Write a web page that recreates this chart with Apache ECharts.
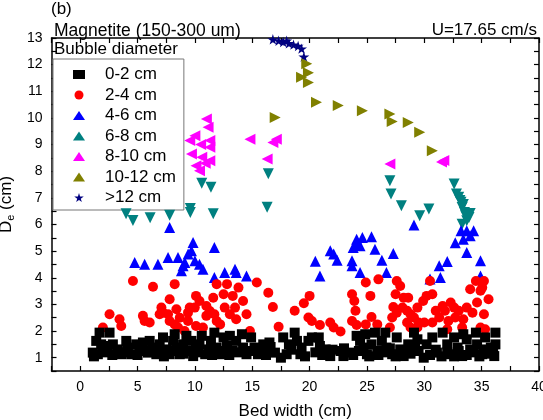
<!DOCTYPE html>
<html>
<head>
<meta charset="utf-8">
<style>
  html, body { margin: 0; padding: 0; background: #fff; }
  #main { width: 543px; height: 420px; }
</style>
</head>
<body>
<div id="main"></div>
<script src="https://cdn.jsdelivr.net/npm/echarts@6/dist/echarts.min.js"></script>
<script>
// 图例名称
var sizeNames = ['0-2 cm', '2-4 cm', '4-6 cm', '6-8 cm', '8-10 cm', '10-12 cm', '>12 cm'];

// 0-2 cm
var d0_2 = [
  [1.1,1.19],[1.2,1.05],[1.4,1.63],[1.54,1.13],[1.69,1.94],[1.83,1.5],[1.98,1.31],[2.0,1.2],[2.42,1.44],[2.56,1.94],
  [2.8,1.1],[2.85,1.5],[3.29,1.31],[3.58,1.13],[3.9,1.2],[4.02,1.63],[4.16,1.38],[4.45,1.13],[4.89,1.5],
  [5.0,1.1],[5.18,1.31],[5.47,1.57],[5.6,1.25],[5.91,1.19],[6.06,1.63],[6.35,1.38],[6.64,1.13],[6.93,1.5],
  [7.0,1.2],[7.22,1.76],[7.3,1.05],[7.51,1.31],[7.8,1.13],[8.0,1.25],[8.1,1.63],[8.24,1.88],[8.39,1.38],
  [8.68,1.13],[8.97,1.5],[9.0,1.15],[9.26,1.82],[9.41,1.25],[9.7,1.63],[9.85,1.06],[10.1,1.38],[10.3,1.2],
  [10.4,1.5],[10.6,1.82],[10.9,1.13],[11.2,1.31],[11.4,1.63],[11.5,1.1],[11.7,1.94],[11.9,1.38],[12.2,1.13],
  [12.5,1.76],[12.5,1.25],[12.8,1.44],[13.0,1.1],[13.05,1.82],[13.3,1.25],[13.6,1.63],[13.8,1.2],[14.1,1.88],
  [14.2,1.38],[14.5,1.13],[14.8,1.25],[14.9,1.76],[15.2,1.38],[15.4,1.25],[15.5,1.13],[15.8,1.3],[15.96,1.5],
  [16.2,1.1],[16.5,1.57],[16.6,1.4],[16.98,1.19],[17.5,1.0],[17.7,1.76],[18.0,1.13],[18.2,1.5],[18.4,1.3],
  [18.7,1.94],[18.9,1.63],[19.2,1.13],[19.3,1.38],[19.6,1.05],[19.9,1.63],[20.2,1.76],[20.5,1.2],[20.8,1.76],
  [20.9,1.44],[21.1,1.1],[21.4,1.31],[21.8,1.06],[22.0,1.3],[22.7,1.25],[22.95,1.06],[23.0,1.35],[23.5,1.19],
  [23.8,1.1],[24.1,1.82],[24.3,1.25],[24.4,1.63],[24.7,1.38],[24.85,1.88],[25.0,1.13],[25.2,1.05],[25.4,1.5],
  [25.7,1.94],[25.9,1.25],[26.0,1.1],[26.3,1.63],[26.5,1.2],[26.6,1.94],[26.7,1.38],[27.0,1.35],[27.2,1.13],
  [27.5,1.05],[27.6,1.76],[27.9,1.31],[28.0,1.2],[28.2,1.06],[28.6,1.5],[28.8,1.15],[29.1,1.94],[29.2,1.35],
  [29.4,1.69],[29.5,1.25],[29.95,1.0],[30.2,1.5],[30.5,1.1],[30.7,1.76],[31.0,1.3],[31.1,1.19],[31.5,1.05],
  [31.6,1.94],[32.0,1.5],[32.0,1.2],[32.3,1.13],[32.6,1.76],[32.6,1.05],[32.9,1.38],[33.0,1.25],[33.3,1.06],
  [33.4,1.88],[33.7,1.69],[33.7,1.1],[34.0,1.31],[34.3,1.2],[34.5,1.94],[34.6,1.5],[34.8,1.05],[35.05,1.13],
  [35.2,1.31],[35.3,1.76],[35.5,1.15],[35.8,1.38],[36.0,1.25],[36.1,1.06],[36.2,1.94],[36.2,1.5]
];

// 2-4 cm
var d2_4 = [
  [1.98,2.13],[2.56,2.63],[3.43,2.44],[3.58,2.19],[4.6,3.88],[5.47,2.57],[5.62,2.38],[6.06,2.32],[6.35,3.66],
  [6.93,2.63],[7.08,2.88],[7.22,2.69],[7.66,2.63],[7.8,3.19],[7.8,2.38],[8.24,3.76],[8.24,2.25],[8.39,2.82],
  [8.53,2.13],[8.68,2.5],[9.1,2.0],[9.4,2.69],[9.4,2.38],[9.55,2.88],[9.99,2.88],[10.1,3.32],[10.1,2.19],
  [10.4,3.13],[10.7,2.13],[11.0,2.94],[11.0,2.57],[11.3,2.75],[11.6,3.25],[11.7,2.63],[11.9,3.76],[11.9,2.38],
  [12.2,2.25],[12.5,3.38],[12.6,2.88],[12.8,3.76],[13.05,2.63],[13.3,3.32],[13.5,2.88],[13.6,2.44],[13.8,3.63],
  [14.2,3.13],[14.5,2.63],[14.8,2.0],[15.4,3.82],[16.4,3.44],[16.8,2.9],[17.3,2.16],[18.7,2.76],[19.5,3.04],
  [19.9,2.51],[20.0,3.32],[20.2,2.38],[20.9,2.23],[21.8,2.32],[22.1,2.13],[22.7,1.98],[23.7,3.38],[23.7,2.38],
  [23.9,3.13],[24.0,2.76],[24.1,2.23],[24.9,3.82],[24.9,2.25],[25.3,3.32],[25.4,2.53],[25.9,2.25],[26.0,3.94],
  [27.0,2.13],[27.2,2.51],[27.3,2.9],[27.5,3.38],[27.6,3.88],[27.6,2.69],[27.9,3.69],[28.1,2.88],[28.2,3.25],
  [28.5,2.76],[28.5,2.32],[28.6,3.25],[28.8,2.63],[28.8,2.13],[29.1,2.51],[29.4,2.88],[29.4,2.13],[29.5,2.32],
  [29.9,3.13],[30.0,2.32],[30.2,3.32],[30.5,3.88],[30.7,3.38],[30.7,2.32],[31.0,2.76],[31.3,2.51],[31.6,2.94],
  [31.8,2.76],[32.0,2.07],[32.1,2.38],[32.3,3.07],[32.6,2.88],[32.7,2.51],[33.0,2.76],[33.3,2.13],[33.4,2.44],
  [33.7,2.88],[34.0,3.57],[34.2,2.69],[34.5,3.88],[34.6,3.07],[34.9,3.51],[34.9,2.13],[35.05,3.63],[35.2,3.88],
  [35.2,2.63],[35.3,2.07],[35.6,3.19]
];

// 4-6 cm
var d4_6 = [
  [4.75,4.57],[5.62,4.51],[6.78,4.51],[7.66,4.76],[7.8,5.89],[8.53,4.76],[8.83,4.26],[8.97,4.45],[9.12,4.57],
  [9.41,4.89],[9.7,5.01],[9.84,5.32],[10.0,4.64],[10.4,4.51],[10.7,4.32],[11.7,5.14],[11.7,4.01],[12.6,4.2],
  [13.5,4.32],[13.6,4.2],[14.5,4.07],[20.5,4.62],[20.9,4.07],[21.8,5.01],[22.1,4.89],[22.4,4.66],[23.7,4.64],
  [23.7,4.45],[23.8,5.14],[24.1,5.45],[24.1,5.29],[24.4,5.2],[24.4,4.2],[24.6,5.51],[25.4,5.54],[25.7,5.07],
  [26.3,4.66],[26.7,4.2],[27.3,4.91],[29.1,5.98],[30.5,3.95],[31.3,4.45],[31.4,4.01],[32.0,4.61],[32.7,5.31],
  [33.2,5.76],[33.4,5.45],[33.7,5.76],[33.7,4.95],[34.0,5.58],[34.3,5.76],[34.9,4.64],[34.9,4.07]
];

// 6-8 cm
var d6_8 = [
  [4.0,6.4],[4.6,6.15],[6.1,6.25],[7.8,6.35],[9.6,6.45],[9.6,6.6],[10.6,7.55],[11.4,7.4],[11.6,6.4],
  [16.4,7.9],[16.3,6.65],[27.0,7.64],[27.1,7.14],[28.0,6.7],[29.6,6.33],[30.4,6.58],[32.6,7.52],[32.8,7.14],
  [33.0,7.02],[33.1,6.9],[33.2,6.83],[33.3,6.64],[33.4,6.75],[33.5,6.45],[33.6,6.33],[33.7,6.14],[33.9,6.26],
  [34.0,6.41],[33.3,6.01]
];

// 8-10 cm
var d8_10 = [
  [9.55,9.15],[9.7,8.65],[10.0,9.33],[10.1,8.2],[10.4,8.02],[10.5,9.0],[10.6,8.52],[10.9,8.3],[11.0,9.96],
  [11.15,9.65],[11.3,9.15],[11.3,8.9],[11.3,8.39],[14.8,9.2],[16.3,8.46],[16.8,9.08],[17.1,9.2],[27.0,8.27],
  [31.5,8.35],[31.7,8.4]
];

// 10-12 cm
var d10_12 = [
  [17.0,10.02],[19.3,11.53],[19.75,12.03],[19.9,11.7],[19.9,11.33],[20.6,10.59],[22.5,10.47],[24.6,10.27],
  [27.0,10.15],[27.2,9.87],[28.6,9.83],[29.6,9.46],[30.7,8.77]
];

// >12 cm
var d12 = [
  [16.8,12.95],[17.3,12.9],[17.7,12.85],[18.0,12.9],[18.2,12.8],[18.6,12.75],[19.0,12.7],[19.3,12.6],[19.5,12.3]
];

var starPath = 'path://M50,0 L61,35 L98,35 L68,57 L79,91 L50,70 L21,91 L32,57 L2,35 L39,35 Z';

var myChart = echarts.init(document.getElementById('main'));
var font = 'Liberation Sans, Arial, sans-serif';

function mkSeries(name, data, symbol, size, color, rot, z) {
  return {
    name: name,
    type: 'scatter',
    data: data,
    symbol: symbol,
    symbolSize: size,
    symbolRotate: rot,
    symbolKeepAspect: true,
    z: z,
    itemStyle: { color: color, opacity: 1 },
    emphasis: { disabled: true }
  };
}

function axisBase() {
  return {
    type: 'value',
    splitLine: { show: false },
    axisLine: { show: true, onZero: false, lineStyle: { color: '#000', width: 1.5 } },
    axisTick: { show: true, inside: true, length: 5, lineStyle: { color: '#000', width: 1.2 } }
  };
}

var xMain = axisBase();
xMain.min = -2.5; xMain.max = 40; xMain.interval = 2.5;
xMain.name = 'Bed width (cm)';
xMain.nameLocation = 'middle';
xMain.nameGap = 32;
xMain.nameTextStyle = { fontFamily: font, fontSize: 17, color: '#000' };
xMain.axisLabel = {
  fontFamily: font, fontSize: 14, color: '#000', margin: 9,
  formatter: function (v) { return v % 5 === 0 ? String(v) : ''; }
};

var xTop = axisBase();
xTop.min = -2.5; xTop.max = 40; xTop.interval = 2.5;
xTop.position = 'top';
xTop.axisLabel = { show: false };

var yMain = axisBase();
yMain.min = 0.5; yMain.max = 13; yMain.interval = 0.5;
yMain.name = '{a|D}{s|e}{a| (cm)}';
yMain.nameLocation = 'middle';
yMain.nameGap = 34;
yMain.nameTextStyle = {
  fontFamily: font, fontSize: 17, color: '#000',
  rich: {
    a: { fontFamily: font, fontSize: 17, color: '#000' },
    s: { fontFamily: font, fontSize: 11, color: '#000', padding: [8, 0, 0, 0] }
  }
};
yMain.axisLabel = {
  fontFamily: font, fontSize: 14, color: '#000', margin: 9,
  formatter: function (v) { return v % 1 === 0 ? String(v) : ''; }
};

var yRight = axisBase();
yRight.min = 0.5; yRight.max = 13; yRight.interval = 0.5;
yRight.position = 'right';
yRight.axisLabel = { show: false };

var option = {
  animation: false,
  backgroundColor: '#fff',
  title: [
    { text: '(b)', left: 51, top: 1, padding: 0, textStyle: { fontFamily: font, fontSize: 17, fontWeight: 'normal', color: '#000' } },
    { text: 'Magnetite (150-300 um)', left: 54, top: 22, padding: 0, textStyle: { fontFamily: font, fontSize: 17.5, fontWeight: 'normal', color: '#000' } },
    { text: 'U=17.65 cm/s', right: 6, top: 22, padding: 0, textStyle: { fontFamily: font, fontSize: 17, fontWeight: 'normal', color: '#000' } },
    { text: 'Bubble diameter', left: 54, top: 41, padding: 0, textStyle: { fontFamily: font, fontSize: 17, fontWeight: 'normal', color: '#000' } }
  ],
  grid: { left: 51.5, right: 4, top: 38, bottom: 49, outerBoundsMode: 'none' },
  legend: {
    data: sizeNames,
    orient: 'vertical',
    left: 53,
    top: 59,
    padding: [7, 8, 4, 20],
    itemWidth: 12,
    itemHeight: 9,
    itemGap: 3.5,
    symbolKeepAspect: true,
    backgroundColor: '#fff',
    borderColor: '#777',
    borderWidth: 1,
    borderRadius: 0,
    textStyle: { fontFamily: font, fontSize: 17, color: '#000', lineHeight: 17, padding: [0, 0, 0, 15] },
    selectedMode: false
  },
  xAxis: [xMain, xTop],
  yAxis: [yMain, yRight],
  series: [
    mkSeries(sizeNames[0], d0_2, 'rect', 10, '#000000', 0, 8),
    mkSeries(sizeNames[1], d2_4, 'circle', 10, '#ff0000', 0, 7),
    mkSeries(sizeNames[2], d4_6, 'triangle', 11, '#0000ff', 0, 6),
    mkSeries(sizeNames[3], d6_8, 'triangle', 11, '#008080', 180, 5),
    mkSeries(sizeNames[4], d8_10, 'triangle', 11, '#ff00ff', 90, 4),
    mkSeries(sizeNames[5], d10_12, 'triangle', 11, '#808000', -90, 3),
    mkSeries(sizeNames[6], d12, starPath, 11, '#000080', 0, 2)
  ]
};
myChart.setOption(option);
</script>
</body>
</html>
